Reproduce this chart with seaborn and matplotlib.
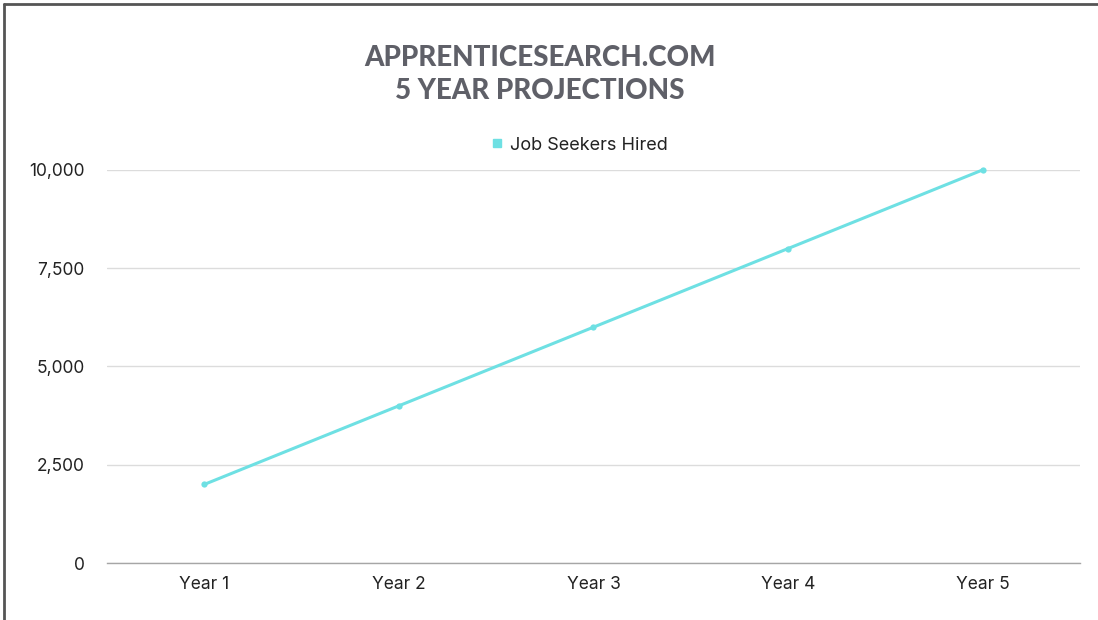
import pandas as pd
import seaborn as sns
import matplotlib.pyplot as plt
from matplotlib.lines import Line2D

years = ['Year 1', 'Year 2', 'Year 3', 'Year 4', 'Year 5']
hired = [2000, 4000, 6000, 8000, 10000]
yticks = [0, 2500, 5000, 7500, 10000]

df = pd.DataFrame({'year': years, 'hired': hired})

sns.set_style('white')
plt.rcParams['font.family'] = ['Inter', 'DejaVu Sans']

line_color = '#6ee0e3'

fig = plt.figure(figsize=(10.98, 6.2), dpi=100)
ax = fig.add_axes([0.0975, 0.0919, 0.886, 0.634])

sns.lineplot(data=df, x='year', y='hired', ax=ax, color=line_color,
             linewidth=2.2, marker='o', markersize=4.5, markeredgewidth=0,
             clip_on=False, sort=False)

ax.set_xlim(-0.5, 4.5)
ax.set_ylim(0, 10000)
ax.set_yticks(yticks)
ax.set_yticklabels([f'{v:,}' for v in yticks])
ax.set_xlabel('')
ax.set_ylabel('')
ax.grid(axis='y', color='#dcdcdc', linewidth=1)
ax.set_axisbelow(True)
for s in ['top', 'right', 'left']:
    ax.spines[s].set_visible(False)
ax.spines['bottom'].set_color('#a6a6a6')
ax.spines['bottom'].set_linewidth(1)
ax.tick_params(axis='both', length=0, labelsize=12.5, colors='#222222')
ax.tick_params(axis='y', pad=16)
ax.tick_params(axis='x', pad=9)

# legend
handle = Line2D([], [], marker='s', linestyle='', color=line_color, markersize=5.5)
fig.legend([handle], ['Job Seekers Hired'], loc='center', bbox_to_anchor=(0.527, 0.766),
           frameon=False, fontsize=13, handletextpad=0.3, handlelength=0.8,
           labelcolor='#222222')

# title
for txt, y in [('APPRENTICESEARCH.COM', 0.907), ('5 YEAR PROJECTIONS', 0.854)]:
    fig.text(0.492, y, txt, ha='center', va='center', family=['Lato', 'DejaVu Sans'],
             fontsize=20, fontweight='black', color='#5f6068')

# frame edges (top and left)
fig.add_artist(Line2D([0.004, 0.004], [0, 0.993], transform=fig.transFigure,
                      color='#555555', linewidth=2))
fig.add_artist(Line2D([0.004, 1], [0.993, 0.993], transform=fig.transFigure,
                      color='#555555', linewidth=2))

fig.savefig('out.png', dpi=100)
